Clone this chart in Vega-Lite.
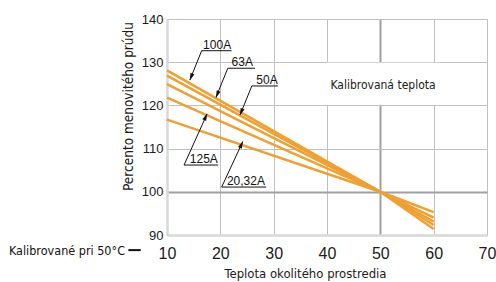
{
  "$schema": "https://vega.github.io/schema/vega-lite/v6.json",
  "width": 320,
  "height": 216,
  "autosize": {"type": "none"},
  "padding": {"left": 167, "top": 19, "right": 9, "bottom": 47},
  "background": "white",
  "config": {"view": {"stroke": null}, "font": "Liberation Sans"},
  "datasets": {
    "curves": [
      {"series": "100A", "t": 10, "p": 128.1}, {"series": "100A", "t": 50, "p": 100}, {"series": "100A", "t": 60, "p": 91.4},
      {"series": "63A", "t": 10, "p": 126.9}, {"series": "63A", "t": 50, "p": 100}, {"series": "63A", "t": 60, "p": 92.3},
      {"series": "50A", "t": 10, "p": 124.9}, {"series": "50A", "t": 50, "p": 100}, {"series": "50A", "t": 60, "p": 93.1},
      {"series": "125A", "t": 10, "p": 121.8}, {"series": "125A", "t": 50, "p": 100}, {"series": "125A", "t": 60, "p": 94.0},
      {"series": "20,32A", "t": 10, "p": 116.7}, {"series": "20,32A", "t": 50, "p": 100}, {"series": "20,32A", "t": 60, "p": 95.3}
    ],
    "leaders": [
      {"id": "100A", "i": 0, "x": 22.1, "y": 132.66}, {"id": "100A", "i": 1, "x": 16.5, "y": 132.66}, {"id": "100A", "i": 2, "x": 14.3, "y": 125.9},
      {"id": "63A", "i": 0, "x": 26.5, "y": 128.6}, {"id": "63A", "i": 1, "x": 21.4, "y": 128.6}, {"id": "63A", "i": 2, "x": 19.2, "y": 121.9},
      {"id": "50A", "i": 0, "x": 30.8, "y": 124.5}, {"id": "50A", "i": 1, "x": 25.9, "y": 124.5}, {"id": "50A", "i": 2, "x": 23.7, "y": 117.8},
      {"id": "125A", "i": 0, "x": 19.6, "y": 106.2}, {"id": "125A", "i": 1, "x": 13.2, "y": 106.2}, {"id": "125A", "i": 2, "x": 17.5, "y": 118.0},
      {"id": "20,32A", "i": 0, "x": 28.6, "y": 101.1}, {"id": "20,32A", "i": 1, "x": 20.25, "y": 101.1}, {"id": "20,32A", "i": 2, "x": 24.2, "y": 111.6}
    ],
    "heads": [
      {"id": "100A", "dir": "down", "x": 14.51, "y": 126.55},
      {"id": "63A", "dir": "down", "x": 19.42, "y": 122.54},
      {"id": "50A", "dir": "down", "x": 23.91, "y": 118.44},
      {"id": "125A", "dir": "up", "x": 17.27, "y": 117.37},
      {"id": "20,32A", "dir": "up", "x": 23.96, "y": 110.97}
    ],
    "labels": [
      {"label": "100A", "x": 19.4, "y": 132.66},
      {"label": "63A", "x": 24.1, "y": 128.6},
      {"label": "50A", "x": 28.75, "y": 124.5},
      {"label": "125A", "x": 16.9, "y": 106.2},
      {"label": "20,32A", "x": 24.8, "y": 101.1}
    ],
    "box": [{"x": 39.9, "x2": 61.2, "y": 120.15, "y2": 129.85}],
    "boxtext": [{"text": "Kalibrovaná teplota", "x": 50.5, "y": 124.8}],
    "side": [{"text": "Kalibrované pri 50°C", "x": 2.125, "y": 86.3, "x1": 2.75, "x2": 5.07, "yr": 86.5}]
  },
  "layer": [
    {
      "data": {"name": "curves"},
      "mark": {"type": "line", "color": "#F0A030", "strokeWidth": 2.5},
      "encoding": {
        "x": {
          "field": "t", "type": "quantitative",
          "scale": {"domain": [10, 70], "nice": false, "zero": false},
          "axis": {
            "values": [10, 15, 20, 25, 30, 35, 40, 45, 50, 55, 60, 65, 70],
            "labelExpr": "datum.value % 10 === 0 ? datum.label : ''",
            "labelFont": "Liberation Sans", "labelFontSize": 16, "labelColor": "#1a1a1a",
            "labelPadding": 10, "labelFlush": false, "labelOverlap": false,
            "ticks": false,
            "domainColor": "#d8d8d8", "domainWidth": 2.5,
            "grid": true,
            "gridColor": {"condition": {"test": "datum.value === 50", "value": "#a0a0a0"}, "value": "#c0c0c0"},
            "gridWidth": {"condition": {"test": "datum.value === 50", "value": 2}, "value": 1},
            "title": "Teplota okolitého prostredia",
            "titleFont": "DejaVu Sans Condensed, sans-serif",
            "titleFontSize": 13, "titleFontWeight": "normal", "titleColor": "#1a1a1a",
            "titleX": 138, "titleY": 38, "titleBaseline": "middle", "titleAlign": "center"
          }
        },
        "y": {
          "field": "p", "type": "quantitative",
          "scale": {"domain": [90, 140], "nice": false, "zero": false},
          "axis": {
            "values": [90, 95, 100, 105, 110, 115, 120, 125, 130, 135, 140],
            "labelExpr": "datum.value % 10 === 0 ? datum.label : ''",
            "labelFont": "Liberation Sans", "labelFontSize": 13, "labelColor": "#1a1a1a",
            "labelPadding": 4, "labelOverlap": false,
            "ticks": false,
            "domainColor": "#d8d8d8", "domainWidth": 2.5,
            "grid": true,
            "gridColor": {"condition": {"test": "datum.value === 100", "value": "#a0a0a0"}, "value": "#c0c0c0"},
            "gridWidth": {"condition": {"test": "datum.value === 100", "value": 2}, "value": 1},
            "title": "Percento menovitého prúdu",
            "titleFont": "DejaVu Sans Condensed, sans-serif",
            "titleFontSize": 13.5, "titleFontWeight": "normal", "titleColor": "#1a1a1a",
            "titleX": -39, "titleY": 87, "titleBaseline": "middle", "titleAlign": "center", "titleAngle": -90
          }
        },
        "detail": {"field": "series"}
      }
    },
    {
      "data": {"name": "box"},
      "mark": {"type": "rect", "fill": "white"},
      "encoding": {
        "x": {"field": "x", "type": "quantitative"},
        "x2": {"field": "x2"},
        "y": {"field": "y", "type": "quantitative"},
        "y2": {"field": "y2"}
      }
    },
    {
      "data": {"name": "boxtext"},
      "mark": {"type": "text", "font": "DejaVu Sans Condensed, sans-serif", "fontSize": 12, "color": "#1a1a1a", "align": "center", "baseline": "middle"},
      "encoding": {
        "x": {"field": "x", "type": "quantitative"},
        "y": {"field": "y", "type": "quantitative"},
        "text": {"field": "text"}
      }
    },
    {
      "data": {"name": "leaders"},
      "mark": {"type": "line", "color": "#111111", "strokeWidth": 1},
      "encoding": {
        "x": {"field": "x", "type": "quantitative"},
        "y": {"field": "y", "type": "quantitative"},
        "detail": {"field": "id"},
        "order": {"field": "i"}
      }
    },
    {
      "data": {"name": "heads"},
      "transform": [{"filter": "datum.dir === 'down'"}],
      "mark": {"type": "point", "shape": "M0,-1L0.55,1L-0.55,1Z", "filled": true, "color": "#111111", "size": 56, "angle": 202, "opacity": 1},
      "encoding": {
        "x": {"field": "x", "type": "quantitative"},
        "y": {"field": "y", "type": "quantitative"}
      }
    },
    {
      "data": {"name": "heads"},
      "transform": [{"filter": "datum.dir === 'up'"}],
      "mark": {"type": "point", "shape": "M0,-1L0.55,1L-0.55,1Z", "filled": true, "color": "#111111", "size": 56, "angle": 24, "opacity": 1},
      "encoding": {
        "x": {"field": "x", "type": "quantitative"},
        "y": {"field": "y", "type": "quantitative"}
      }
    },
    {
      "data": {"name": "labels"},
      "mark": {"type": "text", "font": "Liberation Sans", "fontSize": 12, "color": "#111111", "align": "center", "baseline": "alphabetic", "dy": -2},
      "encoding": {
        "x": {"field": "x", "type": "quantitative"},
        "y": {"field": "y", "type": "quantitative"},
        "text": {"field": "label"}
      }
    },
    {
      "data": {"name": "side"},
      "mark": {"type": "text", "font": "DejaVu Sans Condensed, sans-serif", "fontSize": 12.5, "color": "#111111", "align": "right", "baseline": "middle"},
      "encoding": {
        "x": {"field": "x", "type": "quantitative"},
        "y": {"field": "y", "type": "quantitative"},
        "text": {"field": "text"}
      }
    },
    {
      "data": {"name": "side"},
      "mark": {"type": "rule", "color": "#111111", "strokeWidth": 2},
      "encoding": {
        "x": {"field": "x1", "type": "quantitative"},
        "x2": {"field": "x2"},
        "y": {"field": "yr", "type": "quantitative"}
      }
    }
  ]
}
